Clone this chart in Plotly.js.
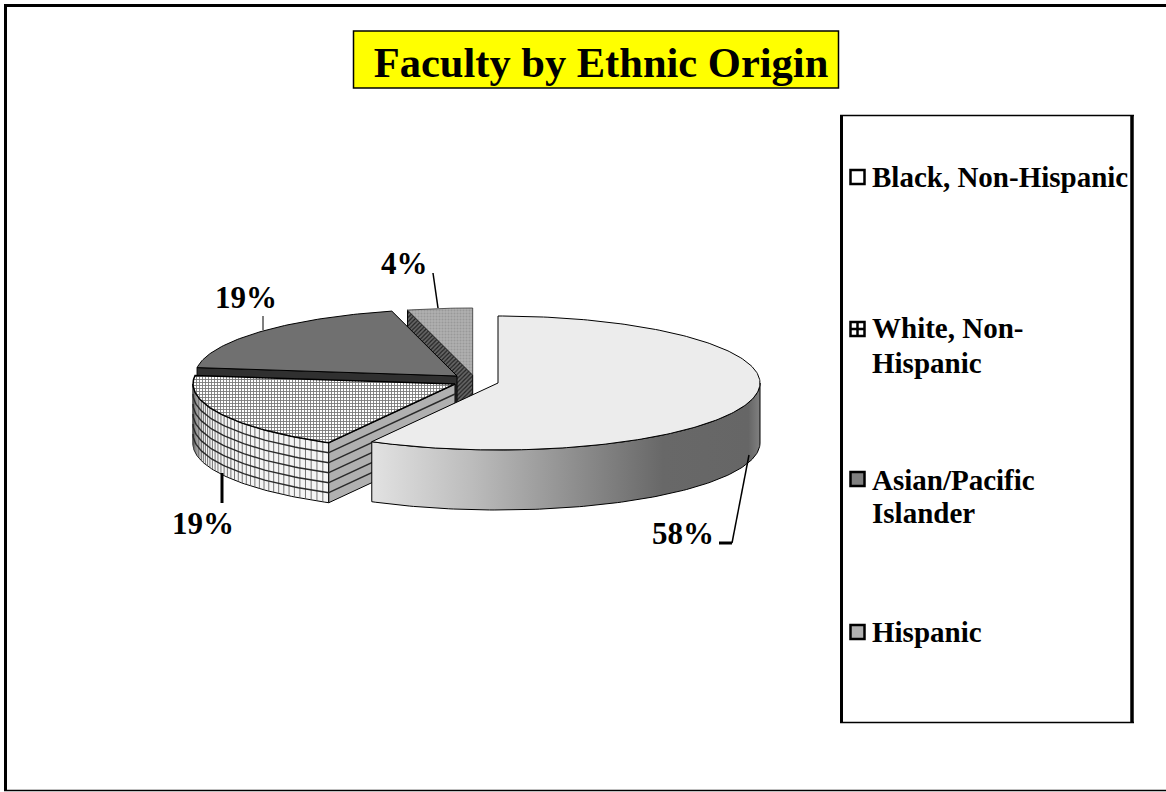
<!DOCTYPE html>
<html><head><meta charset="utf-8">
<script src="https://cdn.plot.ly/plotly-3.0.1.min.js"></script>
<style>html,body{margin:0;padding:0;background:#fff}</style></head>
<body><div id="chart" style="width:1166px;height:792px"></div>
<script>
const categories = ["Black, Non-Hispanic", "White, Non-Hispanic", "Asian/Pacific Islander", "Hispanic"];
const legendLines = ["Black, Non-Hispanic", "White, Non-", "Hispanic", "Asian/Pacific", "Islander", "Hispanic"];
const legendLineY = [177, 328, 363, 480, 513, 632];
const values = [58, 19, 19, 4];
const centerX = [498, 455, 457, 472.7];
const centerY = [383, 384, 376, 375];
const radiusX = 262, radiusY = 67, depth = 60;
const serif = '"Liberation Serif", serif';

const starts = [], ends = [];
let acc = 0;
values.forEach(v => { starts.push(acc * 3.6); acc += v; ends.push(acc * 3.6); });

function pt(i, deg, d) {
  const r = deg * Math.PI / 180;
  return [centerX[i] + radiusX * Math.sin(r), centerY[i] - radiusY * Math.cos(r) + (d || 0)];
}
function arc(i, a, b, d) {
  const out = [], n = Math.max(2, Math.ceil(Math.abs(b - a)));
  for (let k = 0; k <= n; k++) out.push(pt(i, a + (b - a) * k / n, d));
  return out;
}
function poly(points, name, style) {
  return Object.assign({
    type: 'scatter', mode: 'lines', x: points.map(p => p[0]), y: points.map(p => p[1]),
    fill: 'toself', name, showlegend: false, hoverinfo: 'skip',
    line: {color: '#000', width: 1}
  }, style);
}
function wedge(i, style) {
  const c = [centerX[i], centerY[i]];
  return poly([c].concat(arc(i, starts[i], ends[i], 0), [c]), categories[i], style);
}
function cutFace(i, deg, style) {
  const a = pt(i, deg, 0), b = [centerX[i], centerY[i]];
  return poly([a, b, [b[0], b[1] + depth], [a[0], a[1] + depth], a], categories[i] + ' side', style);
}
function rim(i, a, b, style) {
  const pts = arc(i, a, b, 0).concat(arc(i, b, a, depth));
  pts.push(pts[0]);
  return poly(pts, categories[i] + ' rim', style);
}
function lineTrace(xs, ys, color, width) {
  return {type: 'scatter', mode: 'lines', x: xs, y: ys, showlegend: false, hoverinfo: 'skip',
    line: {color, width}, connectgaps: false};
}

const traces = [];
// Hispanic
traces.push(cutFace(3, starts[3], {fillcolor: '#444', fillpattern: {shape: '/', size: 3, solidity: 0.4, fgcolor: '#222', bgcolor: '#666'}}));
traces.push(wedge(3, {fillcolor: '#aaa', fillpattern: {shape: '.', size: 3, solidity: 0.35, fgcolor: '#999', bgcolor: '#b0b0b0'}, line: {color: '#333', width: 0.8}}));
// Asian
traces.push(cutFace(2, starts[2], {fillcolor: '#303030'}));
traces.push(wedge(2, {fillcolor: '#707070'}));
// White: rim, cut face, hatch, top
const wStart = starts[1];
traces.push(rim(1, wStart, 270, {fillcolor: '#f4f4f4'}));
traces.push(cutFace(1, wStart, {fillcolor: '#b0b0b0'}));
{
  const vx = [], vy = [];
  for (let deg = wStart + 1.5; deg < 270; deg += 1.5) {
    const a = pt(1, deg, 0), b = pt(1, deg, depth);
    vx.push(a[0], b[0], null); vy.push(a[1], b[1], null);
  }
  traces.push(lineTrace(vx, vy, '#555', 0.8));
  const hx = [], hy = [];
  for (let d = 10; d < depth; d += 10) {
    arc(1, wStart, 270, d).forEach(p => { hx.push(p[0]); hy.push(p[1]); });
    hx.push(null); hy.push(null);
    const a = pt(1, wStart, d);
    hx.push(a[0], centerX[1], null); hy.push(a[1], centerY[1] + d, null);
  }
  traces.push(lineTrace(hx, hy, '#2a2a2a', 1.4));
}
traces.push(wedge(1, {fillcolor: '#ddd', line: {color: '#000', width: 1.5},
  fillpattern: {shape: '+', size: 3, solidity: 0.5, fgcolor: '#777', bgcolor: '#fff'}}));
// Black
traces.push(rim(0, 90, ends[0], {
  fillgradient: {type: 'horizontal', start: 372, stop: 760,
    colorscale: [[0, '#e2e2e2'], [0.25, '#bdbdbd'], [0.5, '#929292'], [0.75, '#686868'], [0.97, '#666'], [1, '#808080']]}
}));
traces.push(wedge(0, {fillcolor: '#ececec'}));

// Leader lines
traces.push(lineTrace([433, 438], [273, 308], '#000', 1.5));
traces.push(lineTrace([263, 263], [316, 330], '#000', 1));
traces.push(lineTrace([222, 222], [473, 503], '#000', 3));
traces.push(lineTrace([749, 732], [455, 543], '#000', 1.5));
traces.push(lineTrace([732, 719], [543, 543], '#000', 3));

// Legend swatches
const swatchX = [857.5, 857.5, 857.5, 857.5];
const swatchY = [177, 329, 479, 632];
const swatchSymbols = ['square', 'square-cross', 'square', 'square'];
const swatchColors = ['#fff', '#fff', '#808080', '#b0b0b0'];
categories.forEach((c, i) => traces.push({
  type: 'scatter', mode: 'markers', x: [swatchX[i]], y: [swatchY[i]], name: c, showlegend: false, hoverinfo: 'skip',
  marker: {symbol: swatchSymbols[i], size: 14, color: swatchColors[i], line: {color: '#000', width: 2.5}}
}));

const labelX = [683, 203, 246, 404];
const labelY = [533, 523, 297, 263];
const annotations = values.map((v, i) => ({
  x: labelX[i], y: labelY[i], xref: 'x', yref: 'y', text: '<b>' + v + '%</b>', showarrow: false,
  font: {family: serif, size: 31, color: '#000'}
})).concat(legendLines.map((t, i) => ({
  x: 870, y: legendLineY[i], xref: 'x', yref: 'y', xanchor: 'left', align: 'left',
  text: '<b>' + t + '</b>', showarrow: false,
  font: {family: serif, size: 29, color: '#000'}
})));

function edge(x0, y0, x1, y1, w) {
  return {type: 'line', xref: 'x', yref: 'y', x0, y0, x1, y1, line: {color: '#000', width: w}, layer: 'below'};
}
const layout = {
  width: 1166, height: 792, margin: {l: 0, r: 0, t: 0, b: 0},
  paper_bgcolor: '#fff', plot_bgcolor: '#fff', showlegend: false,
  title: {text: '<b>Faculty by Ethnic Origin</b>', x: 601 / 1166, xanchor: 'center', y: 1 - 62 / 792, yanchor: 'middle',
    xref: 'container', yref: 'container', font: {family: serif, size: 42.5, color: '#000'}},
  xaxis: {range: [0, 1166], visible: false, fixedrange: true},
  yaxis: {range: [792, 0], visible: false, fixedrange: true},
  annotations,
  shapes: [
    edge(4, 5.5, 1166, 5.5, 3), edge(5.5, 4, 5.5, 791, 3), edge(4, 790.5, 1166, 790.5, 1.5),
    {type: 'rect', xref: 'x', yref: 'y', x0: 353.5, y0: 31, x1: 838.5, y1: 88, fillcolor: '#ffff00', line: {color: '#000', width: 1.5}, layer: 'below'},
    edge(841.5, 115, 841.5, 723, 3), edge(1132, 115, 1132, 723, 3.5),
    edge(840, 115.5, 1134, 115.5, 1.5), edge(840, 722.5, 1134, 722.5, 1.5)
  ]
};
Plotly.newPlot('chart', traces, layout, {staticPlot: true, displayModeBar: false});
</script></body></html>
